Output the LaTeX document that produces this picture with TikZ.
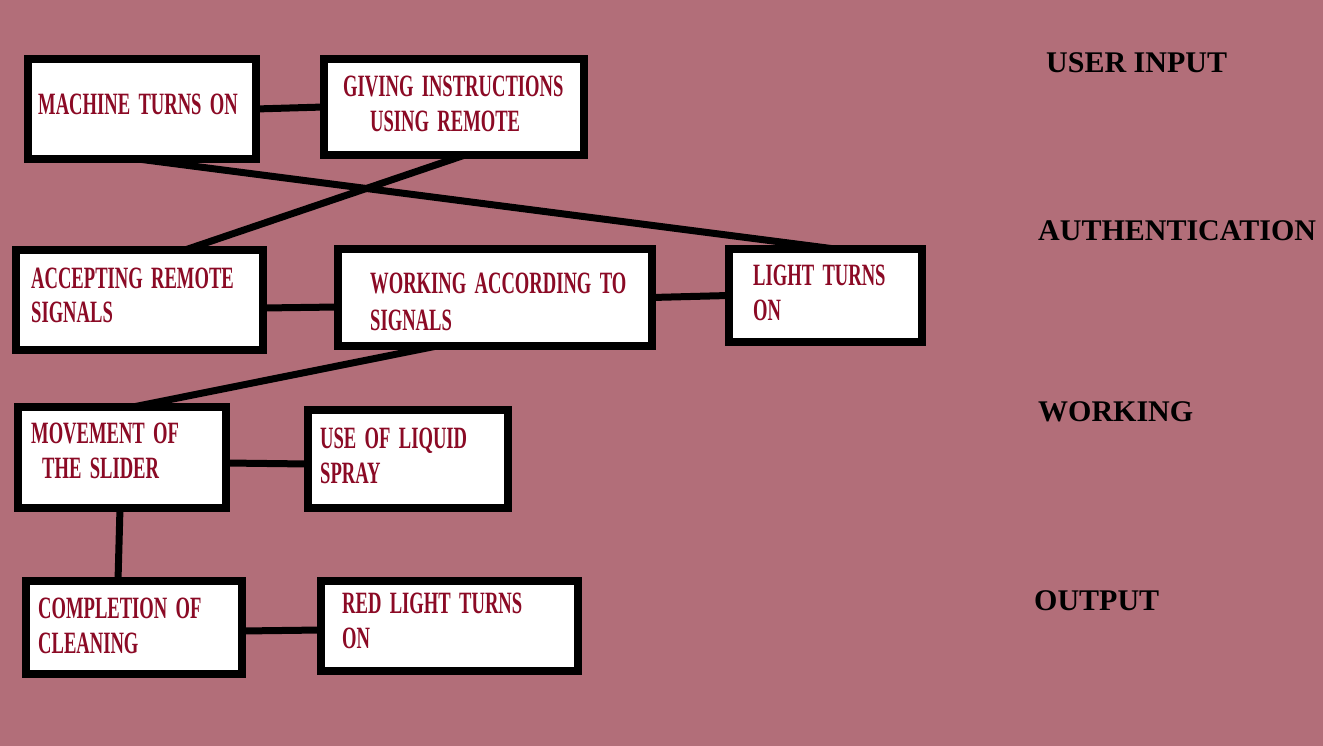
\documentclass[tikz,border=0pt]{standalone}
\usepackage{fontspec}
\setmainfont{Liberation Serif}
\newfontfamily\boxfont{Liberation Serif}[FakeStretch=0.6,WordSpace=1.8]
\newfontfamily\lblfont{Liberation Serif}
\usetikzlibrary{backgrounds}
\definecolor{bgmauve}{HTML}{B26E79}
\definecolor{txtred}{HTML}{8B0A25}
\begin{document}
\begin{tikzpicture}[x=1pt,y=-1pt,
  stepbox/.style={draw=black,line width=8pt,fill=white,inner sep=0pt,outer sep=0pt},
  btext/.style={anchor=base west,inner sep=0pt,text=txtred,font=\boxfont\bfseries\fontsize{31}{35}\selectfont},
  ltext/.style={anchor=base west,inner sep=0pt,text=black,font=\lblfont\bfseries\fontsize{30}{34}\selectfont},
  link/.style={draw=black,line width=7pt}]
\useasboundingbox (0,0) rectangle (1323,746);
% boxes
\node[stepbox,minimum width=228pt,minimum height=100pt] (b1) at (141.5,109) {};
\node[stepbox,minimum width=260pt,minimum height=96pt] (b2) at (454,107) {};
\node[stepbox,minimum width=247pt,minimum height=100pt] (b3) at (139.5,300) {};
\node[stepbox,minimum width=314pt,minimum height=97pt] (b4) at (495,297.5) {};
\node[stepbox,minimum width=193pt,minimum height=93pt] (b5) at (825.5,295.5) {};
\node[stepbox,minimum width=208pt,minimum height=101pt] (b6) at (122,457.5) {};
\node[stepbox,minimum width=200pt,minimum height=98pt] (b7) at (408,459) {};
\node[stepbox,minimum width=216pt,minimum height=93pt] (b8) at (134,627.5) {};
\node[stepbox,minimum width=257pt,minimum height=90pt] (b9) at (449.5,626) {};
% texts
\node[btext] (t1) at (38,115) {MACHINE TURNS ON};
\node[btext] (t2a) at (343,97) {GIVING INSTRUCTIONS};
\node[btext] (t2b) at (370,132) {USING REMOTE};
\node[btext] (t3a) at (31,288) {ACCEPTING REMOTE};
\node[btext] (t3b) at (31,322) {SIGNALS};
\node[btext] (t4a) at (370,293) {WORKING ACCORDING TO};
\node[btext] (t4b) at (370,330) {SIGNALS};
\node[btext] (t5a) at (753,285) {LIGHT TURNS};
\node[btext] (t5b) at (753,320) {ON};
\node[btext] (t6a) at (31,443) {MOVEMENT OF};
\node[btext] (t6b) at (42,478) {THE SLIDER};
\node[btext] (t7a) at (320,448) {USE OF LIQUID};
\node[btext] (t7b) at (320,483) {SPRAY};
\node[btext] (t8a) at (38,618) {COMPLETION OF};
\node[btext] (t8b) at (38,653) {CLEANING};
\node[btext] (t9a) at (342,613) {RED LIGHT TURNS};
\node[btext] (t9b) at (342,648) {ON};
% labels
\node[ltext] (l1) at (1046,73) {USER INPUT};
\node[ltext] (l2) at (1038,241) {AUTHENTICATION};
\node[ltext] (l3) at (1038,421) {WORKING};
\node[ltext] (l4) at (1034,610) {OUTPUT};
% background and connectors
\begin{scope}[on background layer]
\fill[bgmauve] (0,0) rectangle (1323,746);
\draw[link] (b1.east) -- (b2.west);
\draw[link] ([xshift=-3.5pt]b1.south) -- ([xshift=9.5pt]b5.north);
\draw[link] ([xshift=11pt]b2.south) -- ([xshift=45.5pt]b3.north);
\draw[link] ([yshift=-8pt]b3.east) -- ([yshift=-9.5pt]b4.west);
\draw[link] (b4.east) -- (b5.west);
\draw[link] ([xshift=-58pt]b4.south) -- ([xshift=11pt]b6.north);
\draw[link] ([yshift=-5.5pt]b6.east) -- ([yshift=-5pt]b7.west);
\draw[link] ([xshift=-2pt]b6.south) -- ([xshift=-16pt]b8.north);
\draw[link] ([yshift=-3.5pt]b8.east) -- ([yshift=-4pt]b9.west);
\end{scope}
\end{tikzpicture}
\end{document}
